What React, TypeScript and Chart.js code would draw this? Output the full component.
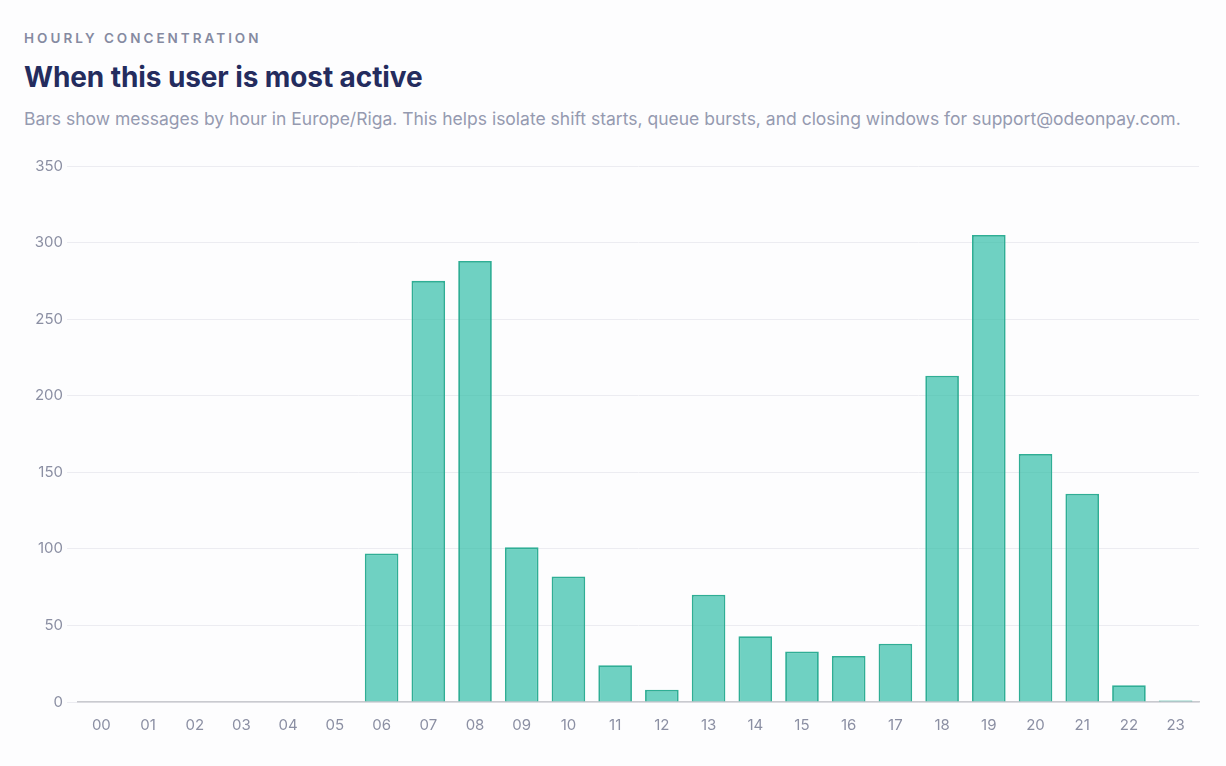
import React, { useEffect, useRef } from "react";
import { Chart, registerables } from "chart.js";

Chart.register(...registerables);

// Hour-of-day buckets (Europe/Riga) and message counts per hour
const hours: string[] = [
  "00", "01", "02", "03", "04", "05", "06", "07", "08", "09", "10", "11",
  "12", "13", "14", "15", "16", "17", "18", "19", "20", "21", "22", "23",
];
const messages: number[] = [
  0, 0, 0, 0, 0, 0, 97, 275, 288, 101, 82, 24,
  8, 70, 43, 33, 30, 38, 213, 305, 162, 136, 11, 1,
];
const yMax = 350;
const yStep = 50;

const FONT = "Inter, 'DejaVu Sans', sans-serif";

export default function App() {
  const canvasRef = useRef<HTMLCanvasElement | null>(null);

  useEffect(() => {
    if (!canvasRef.current) return;
    const chart = new Chart(canvasRef.current, {
      type: "bar",
      data: {
        labels: hours,
        datasets: [
          {
            label: "Messages",
            data: messages,
            backgroundColor: "rgba(38, 187, 163, 0.66)",
            borderColor: "#2fae95",
            borderWidth: 1.8,
            borderSkipped: "bottom",
          },
        ],
      },
      options: {
        animation: false,
        responsive: false,
        maintainAspectRatio: false,
        layout: { padding: { top: 16, right: 27, left: 0, bottom: 0 } },
        plugins: {
          legend: { display: false },
          tooltip: { enabled: false },
        },
        scales: {
          x: {
            grid: { display: false },
            border: { display: true, color: "#c9cacf", width: 1.5 },
            ticks: {
              color: "#8b8fa3",
              font: { family: FONT, size: 15 },
              padding: 6,
            },
            afterFit: (scale: any) => {
              scale.height = 48;
            },
          },
          y: {
            min: 0,
            max: yMax,
            ticks: {
              stepSize: yStep,
              color: "#8b8fa3",
              font: { family: FONT, size: 15 },
              padding: 4,
            },
            grid: {
              color: "#ececf1",
              tickLength: 11,
              drawTicks: true,
            },
            border: { display: false },
            afterFit: (scale: any) => {
              scale.width = 78;
            },
          },
        },
      },
    });
    return () => chart.destroy();
  }, []);

  return (
    <div
      style={{
        position: "fixed",
        inset: 0,
        background: "#fdfdfe",
        fontFamily: FONT,
        overflow: "hidden",
      }}
    >
      <div
        style={{
          position: "absolute",
          left: 24,
          top: 29,
          fontSize: 13.5,
          fontWeight: 600,
          letterSpacing: 3,
          color: "#858aa1",
          lineHeight: "18px",
        }}
      >
        HOURLY CONCENTRATION
      </div>
      <div
        style={{
          position: "absolute",
          left: 24,
          top: 59,
          fontSize: 28,
          fontWeight: 700,
          color: "#242c5e",
          lineHeight: "36px",
          letterSpacing: -0.1,
        }}
      >
        When this user is most active
      </div>
      <div
        style={{
          position: "absolute",
          left: 24,
          top: 108,
          fontSize: 17.5,
          fontWeight: 400,
          color: "#959ab0",
          lineHeight: "22px",
          whiteSpace: "nowrap",
        }}
      >
        Bars show messages by hour in Europe/Riga. This helps isolate shift starts, queue bursts, and closing windows for support@odeonpay.com.
      </div>
      <canvas
        ref={canvasRef}
        width={1226}
        height={600}
        style={{ position: "absolute", left: 0, top: 150, width: 1226, height: 600 }}
      />
    </div>
  );
}
